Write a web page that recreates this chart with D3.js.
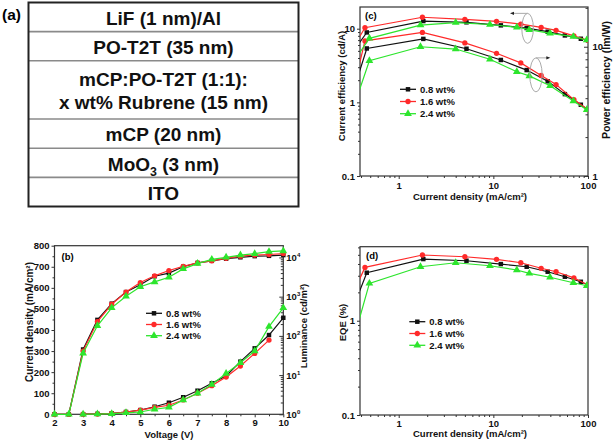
<!DOCTYPE html>
<html><head><meta charset="utf-8">
<script src="https://cdn.jsdelivr.net/npm/d3@7"></script>
<style>body{margin:0;background:#fff}</style>
</head><body>
<script>
// ---------------- DATA ----------------
const layers = [["LiF (1 nm)/Al"],["PO-T2T (35 nm)"],["mCP:PO-T2T (1:1):","x wt% Rubrene (15 nm)"],["mCP (20 nm)"],["MoO_3 (3 nm)"],["ITO"]];
const dopings = ["0.8 wt%","1.6 wt%","2.4 wt%"];

// (b) luminance (cd/m2) vs voltage
const voltage = [2,2.5,3,3.5,4,4.5,5,5.5,6,6.5,7,7.5,8,8.5,9,9.5,10];
const lum08 = [1,1,45,256,664,1310,2020,3320,4000,5800,7240,8200,9290,10100,10800,11000,11500];
const lum16 = [1,1,41,232,640,1310,2290,3400,4640,5940,7240,8200,9510,10800,11500,11900,12500];
const lum24 = [1,1,36,181,519,1025,1790,2380,3120,5120,6980,8940,10100,11500,12500,14100,14700];
// (b) current density (mA/cm2) vs voltage
const voltJ = [3,3.5,4,4.5,5,5.5,6,6.5,7,7.5,8,8.5,9,9.5,10];
const cd08 = [0.5,2,5,11,20,36,55,81,112,147,182,250,313,376,458];
const cd16 = [0.4,1.5,4,10,20,33,43,68,100,136,177,229,289,352];
const cd24 = [0.3,1,3,7,11,24,33,68,100,141,194,245,300,416,505];

// (c),(d) current density of each device (mA/cm2)
const j08 = [0.3,0.46,1.82,5.2,12.0,22.5,37.5,57,84,100];
const j16 = [0.3,0.44,1.78,5.0,10.8,19.5,32,46,71,100];
const j24 = [0.3,0.49,1.7,4.0,9.2,17.7,24,39.7,70,97];
// current efficiency (cd/A)
const ce08 = [4.1,8.9,12.7,12.2,11.1,10.2,9.1,8.1,7.3,6.95];
const ce16 = [4.5,10.3,14.3,13.4,12.6,11.5,10.4,9.5,8.0,6.95];
const ce24 = [2.9,7.4,11.2,12.1,11.4,10.45,9.7,8.65,7.8,7.0];
// power efficiency (lm/W)
const pe08 = [3.6,9.7,11.5,9.65,7.9,6.6,5.4,4.3,3.56,3.26];
const pe16 = [3.4,11.1,12.9,10.7,8.9,7.5,6.0,5.1,3.9,3.26];
const pe24 = [2.7,7.8,10.0,9.6,8.0,6.4,5.95,5.0,3.8,3.26];
// EQE (%)
const eqe08 = [1.07,3.23,4.51,4.33,3.99,3.74,3.31,2.93,2.59,2.39];
const eqe16 = [1.58,3.68,4.98,4.77,4.48,4.12,3.6,3.31,2.85,2.39];
const eqe24 = [0.43,2.49,3.74,4.12,3.83,3.45,3.18,2.89,2.53,2.35];

// tick labels
const bxTicks = [2,3,4,5,6,7,8,9,10];
const byTicks = [0,100,200,300,400,500,600,700,800];
const lumTicks = [1,10,100,1000,10000];
const jTicks = [1,10,100];
const ceTicks = [0.1,1,10];
const peTicks = [1,10];
const eqeTicks = [0.1,1];

// ---------------- STYLE ----------------
const F = '"Liberation Sans", Arial, Helvetica, sans-serif';
const colors = ["#111111","#ff2a2a","#2de52d"];
const shapes = [d3.symbolSquare, d3.symbolCircle, d3.symbolTriangle];
const sizes = [20,22,26];

const svg = d3.select('body').append('svg').attr('width',614).attr('height',441)
  .style('font-family',F).style('font-weight','bold');
const defs = svg.append('defs');

// ---------------- (a) TABLE ----------------
function rich(sel, str){
  const parts = str.split(/_(\d)/);
  parts.forEach((p,k)=>{
    if(k%2===1) sel.append('tspan').attr('dy',5).attr('font-size','0.65em').text(p);
    else { const t = sel.append('tspan').text(p); if(k>0) t.attr('dy',-5); }
  });
}
svg.append('text').attr('x',2).attr('y',20).attr('font-size',15.5).text('(a)');
const units = d3.sum(layers, l=>l.length);
const yT = d3.scaleLinear([0,units],[2.5,206.5]);
const tx0 = 28.5, tx1 = 298.5;
let u = 0;
layers.forEach((lines,i)=>{
  const y0 = yT(u), y1 = yT(u+lines.length); u += lines.length;
  if(i>0) svg.append('line').attr('x1',tx0).attr('x2',tx1).attr('y1',y0).attr('y2',y0)
     .attr('stroke','#8a8a8a').attr('stroke-width',1.6);
  const cy = (y0+y1)/2 + 1;
  lines.forEach((t,j)=>{
    const yy = cy + (j-(lines.length-1)/2)*23.3 + 6.8;
    const te = svg.append('text').attr('x',(tx0+tx1)/2).attr('y',yy).attr('text-anchor','middle')
      .attr('font-size',19).attr('fill','#111');
    rich(te, t);
  });
});
svg.append('rect').attr('x',tx0).attr('y',yT(0)).attr('width',tx1-tx0).attr('height',yT(units)-yT(0))
  .attr('fill','none').attr('stroke','#222').attr('stroke-width',2);

// ---------------- helpers ----------------
function logMinors(lo,hi){
  const out=[];
  for(let e=Math.floor(Math.log10(lo)); e<=Math.ceil(Math.log10(hi)); e++)
    for(let m=2;m<=9;m++){ const v=+(m*Math.pow(10,e)).toPrecision(6); if(v>=lo*1.0001 && v<=hi*0.9999) out.push(v); }
  return out;
}
function axis(kind, scale, pos, majors, minors, fmt, inward, pad){
  const mk = {bottom:d3.axisBottom,left:d3.axisLeft,right:d3.axisRight}[kind];
  const tr = kind==='bottom' ? `translate(0,${pos})` : `translate(${pos},0)`;
  const gm = svg.append('g').attr('transform',tr)
    .call(mk(scale).tickValues(minors).tickFormat('').tickSize(inward?-2.5:2));
  const g = svg.append('g').attr('transform',tr)
    .call(mk(scale).tickValues(majors).tickFormat(fmt).tickSize(inward?-4:3).tickPadding(pad!=null?pad:(inward?3:2)));
  [gm,g].forEach(s=>{ s.select('.domain').remove(); s.selectAll('line').attr('stroke','#333').attr('stroke-width',1); });
  g.selectAll('text').attr('font-size',9.5).attr('font-family',F).attr('font-weight','bold').attr('fill','#111');
  return g;
}
function frame(x0,y0,x1,y1){
  svg.append('rect').attr('x',x0).attr('y',y0).attr('width',x1-x0).attr('height',y1-y0)
    .attr('fill','none').attr('stroke','#333').attr('stroke-width',1.2);
}
function clip(id,x0,y0,x1,y1){
  defs.append('clipPath').attr('id',id).append('rect').attr('x',x0).attr('y',y0).attr('width',x1-x0).attr('height',y1-y0);
}
function series(g, xs, ys, x, y, k){
  const pts = xs.map((v,i)=>[x(v), y(ys[i])]);
  g.append('path').attr('d', d3.line()(pts)).attr('fill','none').attr('stroke',colors[k]).attr('stroke-width',1.2);
  g.selectAll(null).data(pts).join('path').attr('transform',d=>`translate(${d[0]},${d[1]})`)
    .attr('d', d3.symbol(shapes[k], sizes[k])()).attr('fill',colors[k]);
}
function legend(x, y, dy){
  dopings.forEach((t,i)=>{
    const yy = y + i*dy;
    svg.append('line').attr('x1',x).attr('x2',x+16).attr('y1',yy).attr('y2',yy).attr('stroke',colors[i]).attr('stroke-width',1.3);
    svg.append('path').attr('transform',`translate(${x+8},${yy})`).attr('d',d3.symbol(shapes[i],sizes[i])()).attr('fill',colors[i]);
    svg.append('text').attr('x',x+20).attr('y',yy+3.3).attr('font-size',9.5).attr('fill','#111').text(t);
  });
}
function vtitle(x, y, txt, size){
  svg.append('text').attr('transform',`translate(${x},${y}) rotate(-90)`).attr('text-anchor','middle')
    .attr('font-size',size).attr('fill','#111').text(txt);
}
function htitle(x, y, txt, size){
  svg.append('text').attr('x',x).attr('y',y).attr('text-anchor','middle').attr('font-size',size).attr('fill','#111').text(txt);
}
const supFmt = d => '10';
function addExp(g){
  g.selectAll('.tick text').each(function(d){
    const t=d3.select(this);
    t.append('tspan').attr('dy',-4).attr('font-size',6).text(Math.round(Math.log10(d)));
  });
}

// ---------------- (b) ----------------
const bx0=54.5,bx1=283.3,by0=245.7,by1=414.3;
const xb = d3.scaleLinear([2,10],[bx0,bx1]);
const ybL = d3.scaleLinear([0,800],[by1,by0]);
const ybR = d3.scaleLog([1,19950],[by1,by0]);
axis('bottom', xb, by1, bxTicks, d3.range(2.5,10,1), d3.format('d'), false);
axis('left', ybL, bx0, byTicks, d3.range(50,800,100), d3.format('d'), false);
addExp(axis('right', ybR, bx1, lumTicks, logMinors(1,19950), supFmt, true));
frame(bx0,by0,bx1,by1);
const gb = svg.append('g');
[[lum08,cd08],[lum16,cd16],[lum24,cd24]].forEach(([L,J],k)=>{
  series(gb, voltage, L, xb, ybR, k);
  series(gb, voltJ.slice(0,J.length), J, xb, ybL, k);
});
legend(146, 313.3, 11.2);
svg.append('text').attr('x',61.5).attr('y',260).attr('font-size',9.5).text('(b)');
vtitle(33, 322, 'Current density (mA/cm²)', 10);
vtitle(307, 326, 'Luminance (cd/m²)', 9.5);
htitle(169, 438, 'Voltage (V)', 9.5);

// ---------------- (c) ----------------
const cx0=360,cx1=588,cy0=7,cy1=176;
const xc = d3.scaleLog([0.39,100],[cx0,cx1]);
const ycL = d3.scaleLog([0.1,19.7],[cy1,cy0]);
const ycR = d3.scaleLog([1,20.3],[cy1,cy0]);
axis('bottom', xc, cy1, jTicks, logMinors(0.39,100), d3.format('~g'), false, 3.5);
axis('left', ycL, cx0, ceTicks, logMinors(0.1,19.7), d3.format('~g'), false);
axis('right', ycR, cx1, peTicks, logMinors(1,20.3), d3.format('~g'), true, 4.5);
frame(cx0,cy0,cx1,cy1);
clip('clipC',cx0,cy0,cx1,cy1);
const gc = svg.append('g').attr('clip-path','url(#clipC)');
[[j08,ce08,pe08],[j16,ce16,pe16],[j24,ce24,pe24]].forEach(([J,C,P],k)=>{
  series(gc, J, C, xc, ycL, k);
  series(gc, J, P, xc, ycR, k);
});
// annotations
const ann = svg.append('g').attr('fill','none').attr('stroke','#aaa').attr('stroke-width',1);
ann.append('ellipse').attr('cx',xc(23)).attr('cy',ycL(10.1)).attr('rx',5.8).attr('ry',15);
ann.append('line').attr('x1',xc(23)).attr('x2',xc(15.5)).attr('y1',ycL(10.1)-15).attr('y2',ycL(10.1)-15);
svg.append('path').attr('d',`M${xc(15)},${ycL(10.1)-15}l4,-1.6v3.2z`).attr('fill','#222');
ann.append('ellipse').attr('cx',xc(28.2)).attr('cy',ycR(6.06)).attr('rx',6.2).attr('ry',17);
ann.append('line').attr('x1',xc(28.2)).attr('x2',xc(38)).attr('y1',ycR(6.06)-17).attr('y2',ycR(6.06)-17);
svg.append('path').attr('d',`M${xc(40)},${ycR(6.06)-17}l-4,-1.6v3.2z`).attr('fill','#222');
legend(400, 89.3, 12.2);
svg.append('text').attr('x',365).attr('y',18.5).attr('font-size',9.5).text('(c)');
vtitle(345, 86, 'Current efficiency (cd/A)', 9.5);
vtitle(610, 80, 'Power efficiency (lm/W)', 10.5);
htitle(470, 199.5, 'Current density (mA/cm²)', 9.5);

// ---------------- (d) ----------------
const dx0=360,dx1=588,dy0=246.7,dy1=415;
const xd = d3.scaleLog([0.39,100],[dx0,dx1]);
const yd = d3.scaleLog([0.1,6.1],[dy1,dy0]);
axis('bottom', xd, dy1, jTicks, logMinors(0.39,100), d3.format('~g'), false);
axis('left', yd, dx0, eqeTicks, logMinors(0.1,6.1), d3.format('~g'), false);
frame(dx0,dy0,dx1,dy1);
clip('clipD',dx0,dy0,dx1,dy1);
const gd = svg.append('g').attr('clip-path','url(#clipD)');
[[j08,eqe08],[j16,eqe16],[j24,eqe24]].forEach(([J,E],k)=> series(gd, J, E, xd, yd, k));
legend(409.3, 321.7, 11.8);
svg.append('text').attr('x',366).attr('y',259).attr('font-size',9.5).text('(d)');
vtitle(346, 322.5, 'EQE (%)', 9.5);
htitle(470, 437, 'Current density (mA/cm²)', 9.5);
</script>
</body></html>
